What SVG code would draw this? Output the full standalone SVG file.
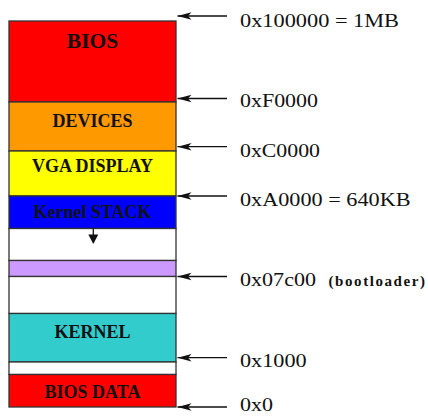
<svg xmlns="http://www.w3.org/2000/svg" width="428" height="416" viewBox="0 0 428 416">
<style>
.blk{stroke:#333;stroke-width:1.3}
.lbl{font-weight:bold;font-size:18px;fill:#111;text-anchor:middle}
.addr{font-size:19px;fill:#111}
.arr{stroke:#111;stroke-width:1.3;fill:none}
</style>
<defs>
<marker id="ah" markerUnits="userSpaceOnUse" markerWidth="15" markerHeight="9" refX="14" refY="4.5" orient="auto">
<path d="M14,4.5 L0,0.8 L3.5,4.5 L0,8.2 Z" fill="#111"/>
</marker>
</defs>
<rect width="428" height="416" fill="#fff"/>
<g font-family="Liberation Serif, Times New Roman, serif">
<g id="bios"><rect class="blk" x="9" y="21" width="167" height="81" fill="#FF0000"/><text class="lbl" x="92.5" y="47.5" style="font-size:21.5px">BIOS</text></g>
<g id="devices"><rect class="blk" x="9" y="102" width="167" height="49" fill="#FF9900"/><text class="lbl" x="92.5" y="127">DEVICES</text></g>
<g id="vga"><rect class="blk" x="9" y="151" width="167" height="45" fill="#FFFF00"/><text class="lbl" x="92.5" y="172">VGA DISPLAY</text></g>
<g id="kstack"><rect class="blk" x="9" y="196" width="167" height="32.5" fill="#0000FF"/><text class="lbl" x="92.5" y="218">Kernel STACK</text></g>
<g id="free1"><rect class="blk" x="9" y="228.5" width="167" height="32" fill="#FFFFFF"/></g>
<g id="bootloader"><rect class="blk" x="9" y="260.5" width="167" height="16" fill="#CC99FF"/></g>
<g id="free2"><rect class="blk" x="9" y="276.5" width="167" height="37" fill="#FFFFFF"/></g>
<g id="kernel"><rect class="blk" x="9" y="313.5" width="167" height="48.5" fill="#33CCCC"/><text class="lbl" x="92.5" y="338">KERNEL</text></g>
<g id="free3"><rect class="blk" x="9" y="362" width="167" height="12.5" fill="#FFFFFF"/></g>
<g id="biosdata"><rect class="blk" x="9" y="374.5" width="167" height="32.5" fill="#FF0000"/><text class="lbl" x="92.5" y="398">BIOS DATA</text></g>
<g id="connectors">
<line class="arr" x1="93.3" y1="228.5" x2="93.3" y2="236"/>
<path d="M88.3,234.5 L98.3,234.5 L93.3,244 Z" fill="#111"/>
<line class="arr" x1="227" y1="16" x2="177.5" y2="16" marker-end="url(#ah)"/>
<line class="arr" x1="227" y1="98.5" x2="177.5" y2="98.5" marker-end="url(#ah)"/>
<line class="arr" x1="227" y1="146.7" x2="177.5" y2="146.7" marker-end="url(#ah)"/>
<line class="arr" x1="227" y1="196" x2="177.5" y2="196" marker-end="url(#ah)"/>
<line class="arr" x1="227" y1="276.5" x2="177.5" y2="276.5" marker-end="url(#ah)"/>
<line class="arr" x1="227" y1="357.7" x2="177.5" y2="357.7" marker-end="url(#ah)"/>
<line class="arr" x1="227" y1="407" x2="177.5" y2="407" marker-end="url(#ah)"/>
</g>
<g id="addresses">
<text class="addr" x="240" y="27" textLength="159" lengthAdjust="spacingAndGlyphs">0x100000 = 1MB</text>
<text class="addr" x="240" y="107" textLength="78" lengthAdjust="spacingAndGlyphs">0xF0000</text>
<text class="addr" x="240" y="157" textLength="80" lengthAdjust="spacingAndGlyphs">0xC0000</text>
<text class="addr" x="240" y="206" textLength="170.5" lengthAdjust="spacingAndGlyphs">0xA0000 = 640KB</text>
<text class="addr" x="240" y="286" textLength="76" lengthAdjust="spacingAndGlyphs">0x07c00</text>
<text x="328.5" y="286" font-weight="bold" font-size="15" fill="#111" textLength="96.5">(bootloader)</text>
<text class="addr" x="240" y="366.7" textLength="66.7" lengthAdjust="spacingAndGlyphs">0x1000</text>
<text class="addr" x="240" y="411" textLength="33" lengthAdjust="spacingAndGlyphs">0x0</text>
</g>
</g>
</svg>
